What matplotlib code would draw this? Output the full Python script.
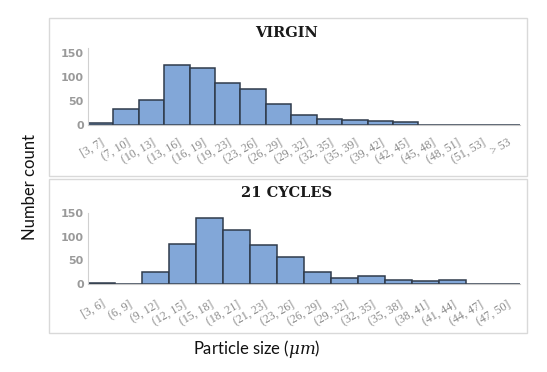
import matplotlib
matplotlib.use("Agg")
import matplotlib.pyplot as plt
from matplotlib.patches import Rectangle

virgin_labels = ["[3, 7]", "(7, 10]", "(10, 13]", "(13, 16]", "(16, 19]", "(19, 23]",
                 "(23, 26]", "(26, 29]", "(29, 32]", "(32, 35]", "(35, 39]", "(39, 42]",
                 "(42, 45]", "(45, 48]", "(48, 51]", "(51, 53]", "> 53"]
virgin_counts = [5, 33, 53, 126, 118, 87, 74, 44, 20, 12, 10, 8, 7, 0, 0, 0, 0]

cycles_labels = ["[3, 6]", "(6, 9]", "(9, 12]", "(12, 15]", "(15, 18]", "(18, 21]",
                 "(21, 23]", "(23, 26]", "(26, 29]", "(29, 32]", "(32, 35]", "(35, 38]",
                 "(38, 41]", "(41, 44]", "(44, 47]", "(47, 50]"]
cycles_counts = [2, 0, 25, 84, 139, 115, 82, 58, 25, 13, 16, 9, 7, 9, 0, 0]

W, H = 547, 372
fig = plt.figure(figsize=(W / 100, H / 100), dpi=100)
fig.patch.set_facecolor("white")
plt.rcParams["mathtext.fontset"] = "dejavuserif"

def fx(x):
    return x / W

def fy(y):
    return 1 - y / H

# panel borders
for (x0, y0, x1, y1) in [(49, 18, 527, 176), (49, 179, 527, 333)]:
    fig.patches.append(Rectangle((fx(x0), fy(y1)), fx(x1) - fx(x0), fy(y0) - fy(y1),
                                 transform=fig.transFigure, fill=False,
                                 edgecolor="#d9d9d9", linewidth=1.0))

FILL = "#82a7d8"
EDGE = "#2f3b4b"
TICKC = "#8a8a8a"

def draw(ax, labels, counts, ytop, title, title_y, xpad):
    n = len(labels)
    xs = list(range(n))
    ax.bar(xs, counts, width=1.0, color=FILL, edgecolor=EDGE, linewidth=1.1, align="center")
    ax.set_xlim(-0.5, n - 0.5)
    ax.set_ylim(0, ytop)
    ax.set_yticks([0, 50, 100, 150])
    ax.set_yticklabels(["0", "50", "100", "150"], color="#9a9a9a", fontsize=8,
                       fontweight="bold", family="DejaVu Sans")
    ax.set_xticks(xs)
    ax.set_xticklabels(labels, rotation=30, ha="right", rotation_mode="anchor",
                       color=TICKC, fontsize=8.5, family="Liberation Serif")
    ax.tick_params(axis="both", length=0, pad=3)
    ax.tick_params(axis="x", pad=xpad)
    for s in ["top", "right"]:
        ax.spines[s].set_visible(False)
    ax.spines["left"].set_color("#d0d0d0")
    ax.spines["bottom"].set_color("#c8c8c8")
    ax.set_facecolor("white")
    fig.text(fx(287), fy(title_y), title, ha="center", va="center",
             fontsize=10.5, fontweight="bold", family="DejaVu Serif", color="#1a1a1a")

ax1 = fig.add_axes([fx(88), fy(125), fx(520) - fx(88), fy(48) - fy(125)])
draw(ax1, virgin_labels, virgin_counts, 160.4, "VIRGIN", 33, 8)

ax2 = fig.add_axes([fx(88), fy(284), fx(520) - fx(88), fy(213) - fy(284)])
draw(ax2, cycles_labels, cycles_counts, 150, "21 CYCLES", 193, 10)

fig.text(fx(30), fy(187), "Number count", rotation=90, ha="center", va="center",
         fontsize=12, family="Lato", color="#111111")
fig.text(fx(257), fy(349), r"Particle size ($\mu m$)", ha="center", va="center",
         fontsize=12, family="Lato", color="#111111")

fig.savefig("out.png", dpi=100, facecolor="white")
